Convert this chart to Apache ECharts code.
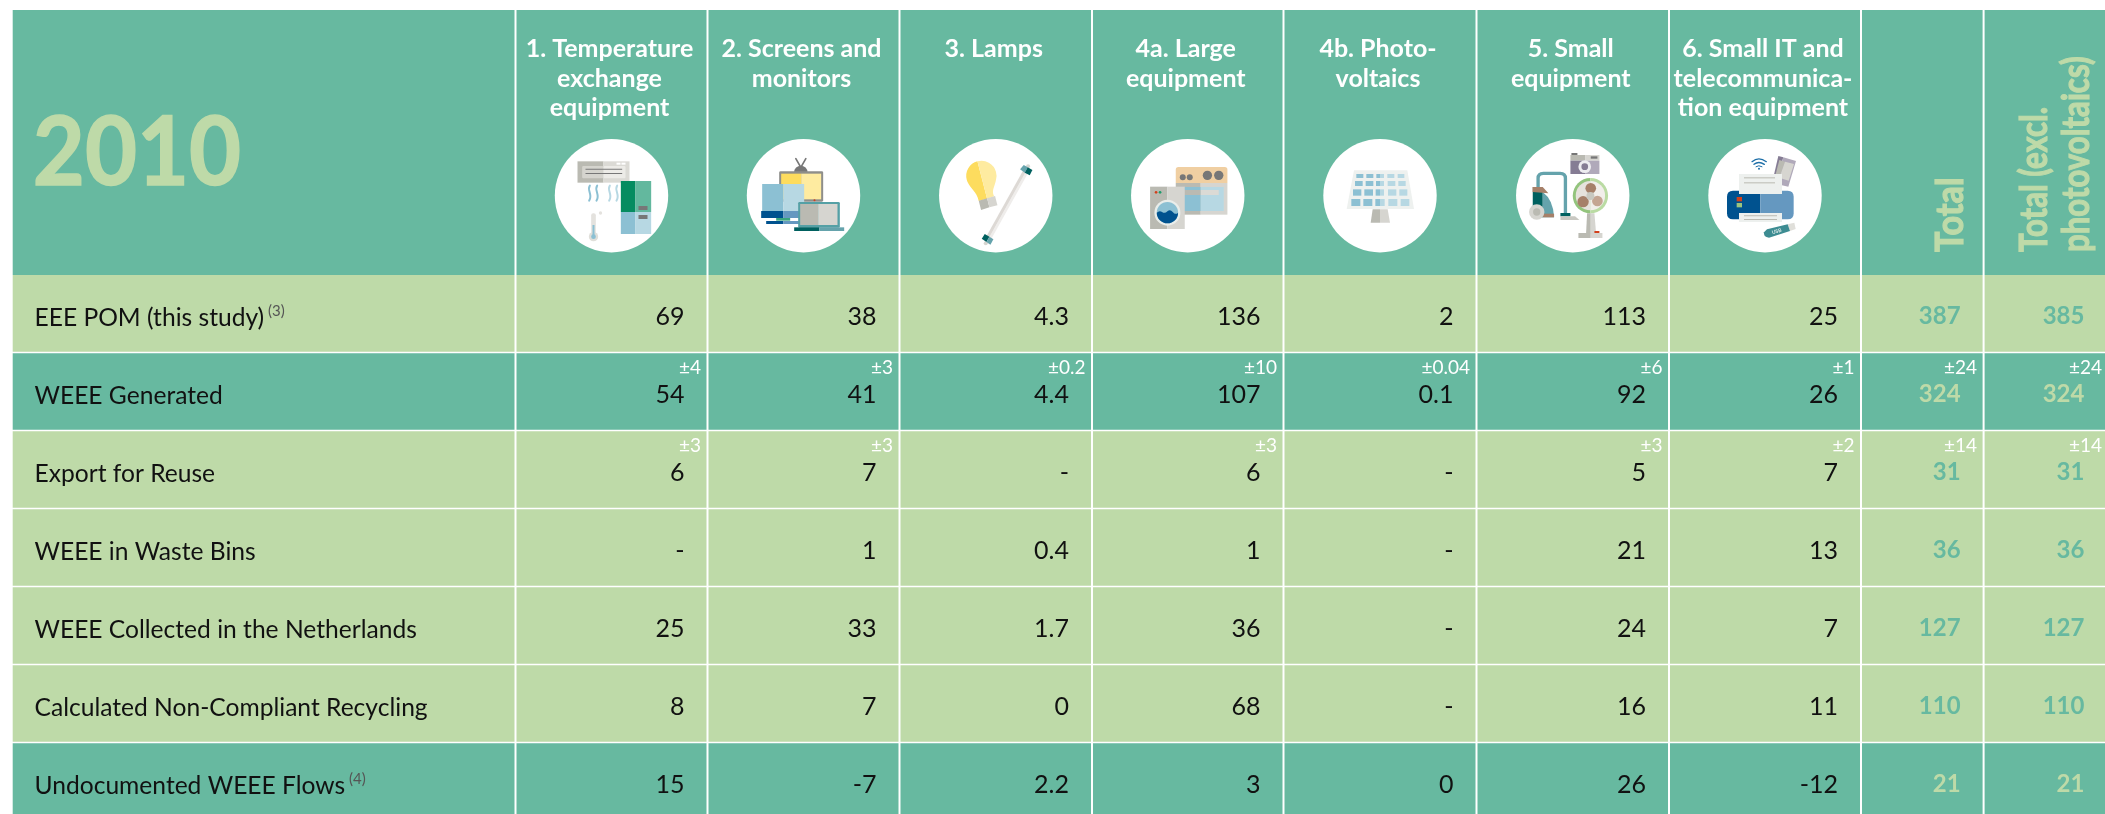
<!DOCTYPE html>
<html><head><meta charset="utf-8">
<style>html,body{margin:0;padding:0;background:#fff}#chart{width:2105px;height:814px}</style>
<script src="https://cdn.jsdelivr.net/npm/echarts@6/dist/echarts.min.js"></script>
</head><body><div id="chart"></div>
<script>
// ---- data ----
const yearTitle = '2010';
const categories = ['1. Temperature\nexchange\nequipment','2. Screens and\nmonitors','3. Lamps','4a. Large\nequipment','4b. Photo-\nvoltaics','5. Small\nequipment','6. Small IT and\ntelecommunica-\ntion equipment'];
const totalHeaders = ['Total','Total (excl.\nphotovoltaics)'];
const rowLabels = ['EEE POM (this study)','WEEE Generated','Export for Reuse','WEEE in Waste Bins','WEEE Collected in the Netherlands','Calculated Non-Compliant Recycling','Undocumented WEEE Flows'];
const rowNotes = ['(3)',null,null,null,null,null,'(4)'];
const eeePom      = [69,38,4.3,136,2,113,25,387,385];
const generated   = [54,41,4.4,107,0.1,92,26,324,324];
const exportReuse = [6,7,null,6,null,5,7,31,31];
const wasteBins   = [null,1,0.4,1,null,21,13,36,36];
const collected   = [25,33,1.7,36,null,24,7,127,127];
const nonCompliant= [8,7,0,68,null,16,11,110,110];
const undocumented= [15,-7,2.2,3,0,26,-12,21,21];
const generatedError = [4,3,0.2,10,0.04,6,1,24,24];
const exportError    = [3,3,null,3,null,3,2,14,14];

// ---- layout & style (reference pixels on hidden value axes) ----
const rowValues = [eeePom,generated,exportReuse,wasteBins,collected,nonCompliant,undocumented];
const rowErrors = [null,generatedError,exportError,null,null,null,null];
const columnEdges = [12.7,515.5,707.5,899.5,1092,1283.5,1476.5,1669,1861,1983.6,2107];
const rowTops = [275,353.3,431.3,509.3,587.3,665.3,743.3,822];
const TEAL='#67B9A0', LIGHT='#BEDAA8', FONT='Lato';
const darkRows = [1,6];
const BL='#8CC0D3',BL2='#B7D8E3',GR='#BABAB2',GR2='#D6D5D0',DG='#777777',NV='#00528F',NV2='#6598C0',TL='#00605F',TL2='#65A3AC',YL='#FDDC5E',YL2='#FEEBA0',BR='#A68069',PU='#857C94',PU2='#B0A9BA',RD='#D2401B';

const R=(a,b,c,d,f)=>({type:'rect',shape:{x:a,y:b,width:c-a,height:d-b},style:{fill:f}});
const RR=(a,b,c,d,f,r)=>({type:'rect',shape:{x:a,y:b,width:c-a,height:d-b,r:r},style:{fill:f}});
const C=(x,y,r,f)=>({type:'circle',shape:{cx:x,cy:y,r:r},style:{fill:f}});
const P=(d,f)=>({type:'path',shape:{pathData:d},style:{fill:f}});
const S=(d,c,w)=>({type:'path',shape:{pathData:d},style:{fill:'none',stroke:c,lineWidth:w,lineCap:'round'}});

const pvRows=[[132,144,[[139,160],[169,190],[199,222],[232,253],[263,283]]],[153,168,[[135,158],[167,190],[198,222],[233,256],[265,287]]],[178,197,[[129,154],[163,189],[197,222],[234,259],[268,292]]],[207,228,[[124,151],[160,187],[196,224],[235,262],[272,298]]]];
const pvCells=[];
pvRows.forEach(r=>r[2].forEach((c,i)=>{
  if(i<2) pvCells.push(R(c[0],r[0],c[1],r[1],BL));
  else if(i>2) pvCells.push(R(c[0],r[0],c[1],r[1],BL2));
  else {pvCells.push(R(c[0],r[0],210,r[1],BL));pvCells.push(R(210,r[0],c[1],r[1],BL2));}
}));

const icons=[
 {ox:530,cx:243,parts:[
  R(141,94,219,158,GR),R(219,94,297,158,'#DBDAD5'),RR(155,108,219,145,'#D5D4CE',3),RR(219,108,285,145,'#ECEBE7',3),
  R(165,116,275,119,DG),R(165,129,275,132,DG),R(258,98,270,104,'#fff'),R(273,98,285,104,'#fff'),
  S('M178 167C168 180 188 195 176 212',BL,6),S('M200 167C190 180 210 195 198 212',BL,6),
  S('M238 167C228 180 248 195 236 212',BL2,6),S('M260 167C250 180 270 195 258 212',BL2,6),
  R(271,153,315,246,'#058C60'),R(315,153,362,246,'#63B89E'),R(271,246,315,312,BL),R(315,246,362,312,BL2),
  R(324,228,351,240,DG),R(324,255,351,267,DG),
  RR(182,250,196,322,'#E4E2DE',6),C(189,320,14,'#E0DFDA'),R(186,285,192,320,BL),C(189,320,7,BL),C(210,249,5,'#E4E2DE')]},
 {ox:530,cx:820,parts:[
  S('M797 86L812 112L827 86',DG,5),P('M792 127A20 20 0 0 1 832 127Z',DG),RR(747,124,879,215,'#8E8E8A',4),
  R(753,131,813,208,YL),R(813,131,873,208,YL2),C(853,211,3,RD),
  R(696,162,759,243,BL),R(759,162,822,243,BL2),R(693,243,759,264,NV),R(759,243,825,264,NV2),R(738,264,780,272,'#3AA57F'),
  R(708,273,759,282,NV),R(759,273,810,282,NV2),
  RR(804,216,929,293,'#55A0A5',4),R(810,222,864,285,GR),R(864,222,922,285,GR2),R(792,292,867,303,TL),R(867,292,942,303,TL2)]},
 {ox:926,cx:210,parts:[
  P('M155 94A45 45 0 0 0 125 155C135 178 152 182 159 213L184 206Z',YL),
  P('M155 94A45 45 0 0 1 211 148C208 170 196 180 205 199L184 206Z',YL2),
  P('M159 212L184 205L191 232L166 240Z',GR),P('M184 205L208 198L215 226L191 232Z',GR2),
  S('M296 125L186 322',"#DDD9D5",10),S('M303 128L193 325','#EFEDEB',8),
  C(307,109,6,GR2),C(180,340,6,GR2),
  P('M283 118L294 105L306 112L297 128Z',TL2),P('M306 112L320 120L312 136L297 128Z',TL),
  P('M168 326L177 312L191 320L182 336Z',TL),P('M191 320L203 328L194 344L182 336Z',TL2)]},
 {ox:1118,cx:210,parts:[
  P('M174 159L174 119Q174 111 182 111L321 111Q329 111 329 119L329 159Z','#F0CFA2'),
  C(195,142,9,DG),C(216,142,9,DG),C(269,136,14,DG),C(303,136,14,DG),
  R(174,159,249,254,GR),R(249,159,329,254,GR2),R(190,171,249,243,BL),R(249,171,318,243,BL2),R(190,180,249,195,GR),R(249,180,303,195,'#DBDAD5'),
  R(97,170,149,297,GR),R(149,170,201,297,GR2),C(115,187,4,RD),C(127,187,4,'#1C9C6C'),C(149,248,39,'#E9EDEA'),C(149,248,32,BL),
  P('M117 248Q125 240 133 246T149 244T165 246T181 248A32 32 0 0 1 117 248Z',NV)]},
 {ox:1310,cx:210,parts:[
  P('M132 121L292 121L312 237L110 237Z','#EEF1EF')].concat(pvCells,[
  P('M188 238L210 238L210 278L182 278Z',GR),P('M210 238L233 238L240 278L210 278Z',GR2)])},
 {ox:1503,cx:208,parts:[
  R(204,69,222,76,DG),R(201,75,245,92,GR),R(245,75,288,92,GR2),R(201,92,245,132,PU),R(245,92,288,132,PU2),R(262,79,282,86,DG),C(244,110,19,'#EDECF0'),C(244,110,10,PU),
  S('M104 172L104 145Q104 130 120 130L170 130Q186 130 186 145L186 250',TL2,10),
  R(88,186,118,262,TL),P('M118 186Q150 210 152 262L118 262Z',TL2),P('M87 171L118 171L135 190L87 186Z',BR),R(118,251,152,262,BR),
  C(100,246,23,GR2),C(100,246,11,GR),R(171,249,201,259,TL),P('M171 259L215 259L228 270L171 270Z','#C9C8C2'),
  P('M251 250L262 250L262 310L248 310Z',GR),P('M262 250L273 250L278 310L262 310Z',GR2),
  P('M261 144A53 53 0 0 0 261 250Z','#93C47D'),P('M261 144A53 53 0 0 1 261 250Z','#BADBA3'),
  P('M261 153A44 44 0 0 0 261 241Z','#E6E2DC'),P('M261 153A44 44 0 0 1 261 241Z','#F1EEEA'),
  C(262,175,16,BR),C(239,215,17,BR),C(282,213,16,'#C4A592'),C(261,198,12,'#C8C8C0'),
  R(225,309,262,324,GR),R(262,309,297,324,GR2),R(273,303,288,309,RD)]},
 {ox:1695,cx:210,parts:[
  S('M171 95Q191 78 214 95','#1E6FA8',4),S('M177 103Q191 92 208 103','#1E6FA8',4),S('M183 110Q191 104 201 110','#1E6FA8',3),C(192,116,3,'#1E6FA8'),
  P('M250 78L265 82L242 161L232 155Z',PU),P('M265 82L303 93L280 170L242 161Z',PU2),
  P('M253 90L270 95L253 143L240 140Z',GR),P('M270 95L297 102L281 152L253 143Z',GR2),
  P('M114 182L196 182L196 268L114 268Q96 268 96 250L96 200Q96 182 114 182Z',NV),P('M196 182L278 182Q296 182 296 200L296 250Q296 268 278 268L196 268Z',NV2),
  R(125,201,141,214,RD),R(125,219,141,232,'#9BC47E'),
  R(132,132,261,192,'#EDF0EE'),R(147,142,240,145,GR),R(147,157,240,160,GR),
  R(132,249,261,276,'#EDF0EE'),R(147,256,246,259,GR),R(147,267,246,270,GR),
  P('M278 283L298 278L302 297L285 303Z','#E0DFDA'),P('M216 298L278 283L285 303L222 323Q204 322 207 307Z','#3D8C92'),
  {type:'text',x:245,y:304,rotation:0.3,style:{text:'USB',fontSize:15,fontFamily:FONT,fontWeight:'bold',fill:'#D9E8E6',align:'center',verticalAlign:'middle'}}]}
];

// records for the two custom series
const headerRecords=[{kind:'year'}].concat(categories.map((c,i)=>({kind:'cat',col:i+1,text:c})),totalHeaders.map((t,i)=>({kind:'total',col:i+8,text:t})));
const cellRecords=[];
rowLabels.forEach((label,r)=>{
  cellRecords.push({row:r,col:0,label:label,note:rowNotes[r]});
  rowValues[r].forEach((v,c)=>cellRecords.push({row:r,col:c+1,value:v,err:rowErrors[r]?rowErrors[r][c]:null}));
});

function cellBox(api,col,y0,y1){
  const a=api.coord([columnEdges[col]+(col?1:0),y0]), b=api.coord([columnEdges[col+1]-1,y1]);
  return {x:a[0],y:a[1],width:b[0]-a[0],height:b[1]-a[1]};
}
function renderHeader(params,api){
  const rec=headerRecords[params.dataIndex], col=rec.kind==='year'?0:rec.col;
  const box=cellBox(api,col,10,275), kids=[{type:'rect',shape:box,style:{fill:TEAL}}];
  if(rec.kind==='year'){
    const p=api.coord([137,154.5]);
    kids.push({type:'text',x:p[0],y:p[1],scaleX:0.945,style:{text:yearTitle,fontFamily:FONT,fontWeight:'bold',fontSize:95,fill:LIGHT,stroke:LIGHT,lineWidth:1.5,align:'center',verticalAlign:'middle'}});
  } else if(rec.kind==='cat'){
    const mid=(columnEdges[col]+columnEdges[col+1])/2-2, p=api.coord([mid,34.5]);
    kids.push({type:'text',x:p[0],y:p[1],style:{text:rec.text,fontFamily:FONT,fontWeight:'bold',fontSize:25,lineHeight:29.4,fill:'#fff',align:'center',verticalAlign:'top'}});
    const ic=icons[col-1], cc=api.coord([(columnEdges[col]+columnEdges[col+1])/2,195.7]);
    kids.push({type:'circle',shape:{cx:cc[0],cy:cc[1],r:56.7},style:{fill:'#fff'}});
    const o=api.coord([ic.ox,130]);
    const shift=cc[0]-(ic.ox+ic.cx/3);
    kids.push({type:'group',x:o[0]+shift,y:o[1],scaleX:1/3,scaleY:1/3,children:ic.parts});
  } else {
    const p=api.coord([col===8?1951:2056,252]);
    kids.push({type:'text',x:p[0],y:p[1],rotation:Math.PI/2,scaleX:col===8?1.32:1.2,scaleY:1.44,style:{text:rec.text,fontFamily:FONT,fontWeight:'bold',fontSize:26,lineHeight:29,fill:LIGHT,stroke:LIGHT,lineWidth:0.8,align:'left',verticalAlign:'middle'}});
  }
  return {type:'group',children:kids};
}
function renderCell(params,api){
  const rec=cellRecords[params.dataIndex], r=rec.row, c=rec.col;
  const dark=darkRows.indexOf(r)>=0;
  const box=cellBox(api,c,rowTops[r],rowTops[r+1]-1.5);
  const kids=[{type:'rect',shape:box,style:{fill:dark?TEAL:LIGHT}}];
  const ty=316.7+78*r;
  if(c===0){
    const p=api.coord([34.5,ty+1]);
    const t=rec.note?'{a|'+rec.label+'}{s| '+rec.note+'}':'{a|'+rec.label+'}';
    kids.push({type:'text',x:p[0],y:p[1],style:{text:t,align:'left',verticalAlign:'middle',
      rich:{a:{fontFamily:FONT,fontSize:24.6,fill:'#111',lineHeight:28},s:{fontFamily:FONT,fontSize:15,fill:'#555',verticalAlign:'top',lineHeight:16}}}});
  } else {
    const isTotal=c>=8, right=(c===9?2084.4:columnEdges[c+1]-23);
    const txt=rec.value===null?'-':String(rec.value);
    const p=api.coord([right,ty]);
    kids.push({type:'text',x:p[0],y:p[1],style:{text:txt,fontFamily:FONT,fontSize:isTotal?24:25,fontWeight:isTotal?'bold':'normal',fill:isTotal?(dark?LIGHT:TEAL):'#111',align:'right',verticalAlign:'middle'}});
    if(rec.err!==null){
      const q=api.coord([c===9?2102:columnEdges[c+1]-6.5,ty-26.5]);
      kids.push({type:'text',x:q[0],y:q[1],style:{text:'±'+rec.err,fontFamily:FONT,fontSize:19,fill:'#fff',align:'right',verticalAlign:'middle'}});
    }
  }
  return {type:'group',children:kids};
}

const chart=echarts.init(document.getElementById('chart'),null,{renderer:'canvas'});
chart.setOption({
  animation:false,
  backgroundColor:'#fff',
  grid:{left:0,right:0,top:0,bottom:0,containLabel:false},
  xAxis:{type:'value',min:0,max:2105,show:false},
  yAxis:{type:'value',min:0,max:814,inverse:true,show:false},
  series:[
    {type:'custom',name:'Header',coordinateSystem:'cartesian2d',clip:true,silent:true,data:headerRecords.map((h,i)=>[i,0]),encode:{x:0,y:1},renderItem:renderHeader},
    {type:'custom',name:'Flows',coordinateSystem:'cartesian2d',clip:true,silent:true,data:cellRecords.map(c=>[c.col,c.row]),encode:{x:0,y:1},renderItem:renderCell}
  ]
});
</script></body></html>
